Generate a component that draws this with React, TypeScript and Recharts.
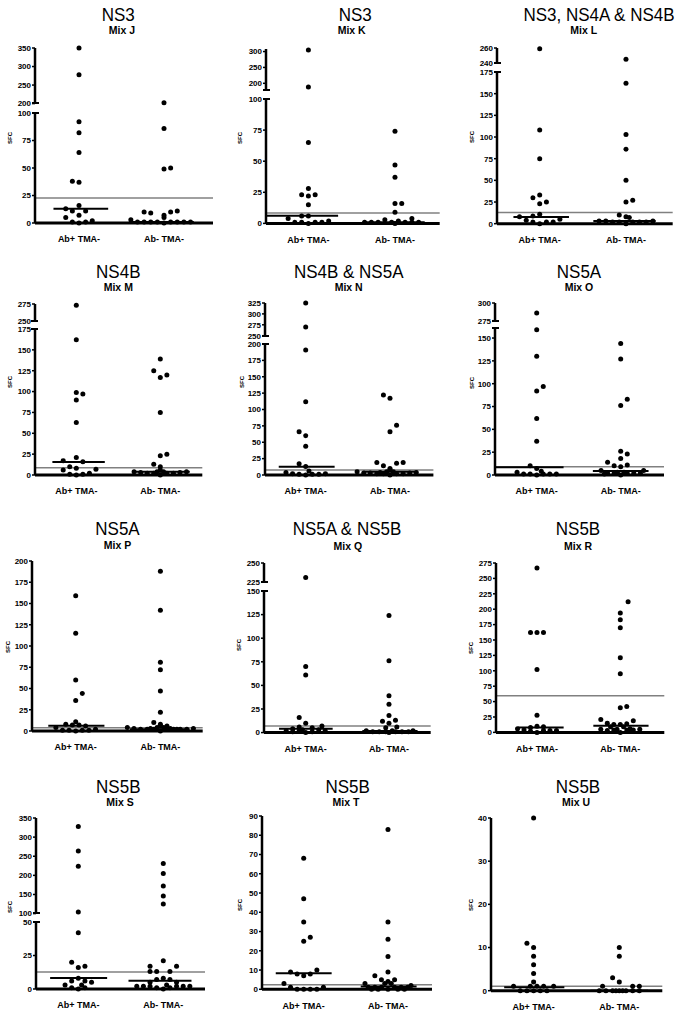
import React from 'react';
import { ScatterChart, Scatter, XAxis, YAxis, ReferenceLine } from 'recharts';

type Pt = [number, number];

const FONT = "'Liberation Sans', Arial, Helvetica, sans-serif";

const categories = ['Ab+ TMA-', 'Ab- TMA-'];
const axisTitle = 'SFC';
const proteinTitles = [
  'NS3', 'NS3', 'NS3, NS4A & NS4B',
  'NS4B', 'NS4B & NS5A', 'NS5A',
  'NS5A', 'NS5A & NS5B', 'NS5B',
  'NS5B', 'NS5B', 'NS5B',
];
const mixNames = ['Mix J', 'Mix K', 'Mix L', 'Mix M', 'Mix N', 'Mix O', 'Mix P', 'Mix Q', 'Mix R', 'Mix S', 'Mix T', 'Mix U'];

// Points: [column offset within the scatter, SFC value]
const mixJ_pos: Pt[] = [[0,350],[0,278],[0,92],[0,82],[0,64],[-1,38],[0,37],[0,16],[-2,13],[-1,11],[1,11],[0,7],[-2,5],[-1,1],[0,0],[1,1],[2,2]];
const mixJ_neg: Pt[] = [[0,202],[0,86],[0,49],[1,50],[-3,10],[-2,9],[0,7],[0,5],[1,10],[2,11],[-5,3],[-4,1],[-3,1],[-2,1],[-1,1],[0,0],[1,1],[2,1],[3,1],[4,1]];
const mixK_pos: Pt[] = [[0,305],[0,188],[0,65],[0,28],[-1,23],[1,23],[0,22],[0,15],[-1,6],[0,6],[-3,4],[-2,1],[-1,1],[0,0],[1,1],[2,1],[3,2]];
const mixK_neg: Pt[] = [[0,74],[0,47],[0,37],[0,16],[1,16],[0,9],[2.5,4],[-4.5,1],[-3.5,1],[-2.5,1],[-1.5,3],[-0.5,1],[0,0],[0.5,2],[1.5,1],[2.5,1],[3.5,1]];
const mixL_pos: Pt[] = [[0,259],[0,108],[0,75],[0,33],[-1,30],[1,25],[0,23],[0,11],[-1,9],[-3,8],[-2,4],[3,5],[-1,2],[0,0],[1,2],[2,2]];
const mixL_neg: Pt[] = [[0,245],[0,162],[0,103],[0,86],[0,50],[0,25],[1,27],[-1,10],[0,8],[0.5,7],[-4,3],[-3,3],[-2,2],[-1,2],[0,0],[1,2],[2,2],[3,2],[4,3]];
const mixM_pos: Pt[] = [[0,273],[0,162],[0,99],[1,97],[0,90],[0,63],[0,21],[-2,17],[1,16],[-1,10],[0,8],[-2,6],[3,7],[-1,1],[0,0],[1,1],[2,2]];
const mixM_neg: Pt[] = [[0,139],[-1,125],[0,117],[1,120],[0,75],[0,23],[1,25],[-1,13],[0,10],[0,6],[-4,4],[-3,3],[-2,2],[-1,2],[0,0],[1,2],[2,2],[3,3],[4,4],[-0.5,4],[0.5,4]];
const mixN_pos: Pt[] = [[0,325],[0,270],[0,191],[0,112],[-1,66],[0,60],[0,44],[-1,17],[0,13],[0.5,6],[-3,4],[-2,2],[-1,1],[0,0],[1,1],[2,1],[3,2]];
const mixN_neg: Pt[] = [[-1,122],[0,117],[1,76],[0,66],[-2,19],[-1,14],[1,18],[2,19],[0,10],[0,8],[-5,5],[-4,3],[-3,3],[-2,2],[-1,2],[0,0],[1,2],[2,2],[3,3],[4,4],[-0.5,5],[0.5,5],[-1.5,4]];
const mixO_pos: Pt[] = [[0,286],[0,159],[0,130],[1,97],[0,92],[0,62],[0,37],[-1,10],[0,7],[0.7,4],[-3,3],[-2,1],[-1,1],[0,0],[1,1],[2,1],[3,1]];
const mixO_neg: Pt[] = [[0,144],[0,127],[1,83],[0,76],[0,26],[1,23],[0,18],[-2,14],[-1,10],[0,9],[1,11],[3.5,5],[-3,5],[-2,2],[-1,2],[0,0],[1,2],[2,2],[3,2],[-2.5,1],[-0.5,3],[0.5,3]];
const mixP_pos: Pt[] = [[0,159],[0,115],[0,60],[1,44],[0,36],[0,11],[-1.5,8],[-0.5,7],[0.5,7],[1.5,6],[-3,4],[-2,1],[-1,1],[0,0],[1,1],[2,1],[3,2]];
const mixP_neg: Pt[] = [[0,188],[0,142],[0,81],[0,72],[0,47],[0,22],[-1,10],[0,8],[0,6],[1,6],[-5,4],[-4,3],[-3,2],[-2,2],[-1,2],[0,0],[1,2],[2,2],[3,2],[4,2],[5,3],[-0.5,4],[0.5,4],[-1.5,3],[1.5,3],[2.5,2]];
const mixQ_pos: Pt[] = [[0,231],[0,70],[0,61],[-1,16],[0,10],[-1,6],[1,5],[2.5,7],[-2,4],[-0.5,3],[-3,2],[-2,1],[-1,2],[0,0],[1,1],[2,3],[3,2]];
const mixQ_neg: Pt[] = [[0,124],[0,76],[0,39],[0,30],[0,18],[-1,12],[1,13],[0,10],[-0.5,5],[1.2,6],[-3.5,2],[-2.5,1],[-1.5,1],[-0.5,1],[0,0],[1,1],[2,1],[3,1],[3.7,2],[0.5,2]];
const mixR_pos: Pt[] = [[0,267],[-1,162],[0,162],[1,162],[0,102],[0,28],[0,10],[-1,8],[1,9],[-3,6],[-2,4],[-1,2],[0,0],[1,3],[2,3],[3,3]];
const mixR_neg: Pt[] = [[1.2,212],[0,194],[0,183],[0,170],[0,121],[0,95],[0,40],[1,42],[-3,21],[2,19],[-2,15],[-1,13],[0,13],[1,14],[-1.5,9],[0.5,9],[-3,5],[-2,3],[-1,4],[0,0],[1,4],[2,4],[3,5],[-0.5,5],[1.5,6]];
const mixS_pos: Pt[] = [[0,328],[0,264],[0,224],[0,104],[0,42],[-1,20],[1,17],[0,16],[0,8],[-1,6],[1,6],[-2,3],[2,5],[-1,1],[0,0],[1,1],[0.5,3]];
const mixS_neg: Pt[] = [[0,231],[0,205],[0,172],[0,146],[0,125],[0,21],[-2,17],[2,17],[-2,13],[-1,13],[1,13],[0,8],[-1,7],[1,7],[-2,5],[2,5],[-4,2],[-3,2],[-2,2],[-1,1],[0,0],[1,1],[2,2],[3,2],[4,2],[0.5,3]];
const mixT_pos: Pt[] = [[0,68],[0,47],[0,35],[1,27],[0,25],[2,10],[-2,9],[-1,8],[1,8],[0,7],[-3,3],[-2,1],[-1,0],[0,0],[1,0],[2,0],[3,1]];
const mixT_neg: Pt[] = [[0,83],[0,35],[0,26],[0,17],[0,9],[-2,7],[-1,5],[1,5],[-3.5,3],[3.5,2],[-0.5,3],[0.5,3],[0,4],[-3,1],[-2,1],[-1,1],[0,0],[1,1],[2,1],[3,1],[-2.5,0],[2.5,0],[-1.5,0],[1.5,0]];
const mixU_pos: Pt[] = [[0,40],[-1,11],[0,10],[0,8],[0,6],[0,4],[0,2],[-3,1],[-0.5,1],[0.5,1],[1.5,1],[3,1],[-2,0],[-1,0],[0,0],[1,0],[2,0]];
const mixU_neg: Pt[] = [[0,10],[0,8],[-1,3],[0,2],[-2.5,1],[2,1],[3,1],[-3,0],[-2,0],[-1,0],[0,0],[1,0],[2,0],[3,0],[-0.5,0],[0.5,0]];

// medians [Ab+, Ab-] and positivity cut-offs
const medianValues: [number, number][] = [
  [13, 1], [6.2, 1], [7.7, 3],
  [15.6, 4], [12.7, 5], [8.4, 4.4],
  [6.3, 2], [4.2, 1.8], [8.1, 10.8],
  [8.2, 6.2], [8.3, 1.4], [0.8, 0],
];
const cutoffValues = [22.7, 8.3, 13, 8.8, 7.6, 9.1, 3.9, 7, 59.6, 12.7, 2.4, 1];

// tick labels
const ticks0to100 = [0, 25, 50, 75, 100];
const ticks0to150 = [0, 25, 50, 75, 100, 125, 150];
const ticks0to175 = [0, 25, 50, 75, 100, 125, 150, 175];
const ticks0to200 = [0, 25, 50, 75, 100, 125, 150, 175, 200];
const ticks0to275 = [0, 25, 50, 75, 100, 125, 150, 175, 200, 225, 250, 275];
const ticks0to50 = [0, 25, 50];
const ticks0to90 = [0, 10, 20, 30, 40, 50, 60, 70, 80, 90];
const ticks0to40 = [0, 10, 20, 30, 40];
const ticksJUp = [200, 250, 300, 350];
const ticksKUp = [200, 250, 300];
const ticksLUp = [240, 260];
const ticksMUp = [250, 275];
const ticksNUp = [250, 275, 300, 325];
const ticksOUp = [275, 300];
const ticksQUp = [225, 250];
const ticksSUp = [100, 150, 200, 250, 300, 350];

type Seg = { lo: number; hi: number; yLo: number; yHi: number; ticks: number[] };
type Layout = {
  axisX: number; xEnd: number; c1: number; c2: number;
  lower: Seg; upper?: Seg;
  title: [number, number]; sub: [number, number]; sfc: [number, number];
  medExt: [[number, number], [number, number]];
};

const layouts: Layout[] = [
  { axisX: 35, xEnd: 213, c1: 79, c2: 164,
    lower: { lo: 0, hi: 100, yLo: 222.7, yHi: 112.7, ticks: ticks0to100 },
    upper: { lo: 200, hi: 350, yLo: 103.3, yHi: 47.7, ticks: ticksJUp },
    title: [118.3, 14.8], sub: [122, 30.5], sfc: [10, 138], medExt: [[-3.85, 4.4], [-5.3, 4.5]] },
  { axisX: 266.3, xEnd: 440, c1: 308.7, c2: 395.3,
    lower: { lo: 0, hi: 100, yLo: 223.7, yHi: 99.3, ticks: ticks0to100 },
    upper: { lo: 178, hi: 308, yLo: 90, yHi: 48.7, ticks: ticksKUp },
    title: [355.3, 14.8], sub: [351.7, 30.5], sfc: [240.3, 138], medExt: [[-6.25, 4.4], [-4.8, 4.4]] },
  { axisX: 497.3, xEnd: 673, c1: 540, c2: 626.3,
    lower: { lo: 0, hi: 175, yLo: 223.7, yHi: 72, ticks: ticks0to175 },
    upper: { lo: 240, hi: 260, yLo: 63.3, yHi: 48.3, ticks: ticksLUp },
    title: [599, 14.8], sub: [583.7, 30.5], sfc: [472.3, 137], medExt: [[-3.9, 4.35], [-4.85, 4.4]] },
  { axisX: 34.7, xEnd: 202, c1: 76, c2: 160,
    lower: { lo: 0, hi: 175, yLo: 475, yHi: 329, ticks: ticks0to175 },
    upper: { lo: 250, hi: 275, yLo: 321, yHi: 304, ticks: ticksMUp },
    title: [118.3, 271.5], sub: [118.3, 286.8], sfc: [10, 381.7], medExt: [[-3.65, 4.35], [-4.25, 4.5]] },
  { axisX: 265.3, xEnd: 433.7, c1: 306, c2: 390.3,
    lower: { lo: 0, hi: 200, yLo: 475, yHi: 344, ticks: ticks0to200 },
    upper: { lo: 250, hi: 325, yLo: 336, yHi: 303.3, ticks: ticksNUp },
    title: [348.7, 271.5], sub: [348.7, 286.8], sfc: [242, 381.7], medExt: [[-4.1, 4.4], [-4, 4.25]] },
  { axisX: 495, xEnd: 664, c1: 536.7, c2: 620.7,
    lower: { lo: 0, hi: 161, yLo: 475, yHi: 328, ticks: ticks0to150 },
    upper: { lo: 275, hi: 300, yLo: 321, yHi: 303.3, ticks: ticksOUp },
    title: [579, 271.5], sub: [579, 286.8], sfc: [472.3, 383], medExt: [[-6.3, 4.1], [-4.25, 4.25]] },
  { axisX: 32.3, xEnd: 203, c1: 76, c2: 160.7,
    lower: { lo: 0, hi: 200, yLo: 731, yHi: 561, ticks: ticks0to200 },
    title: [117.5, 528], sub: [117.5, 545.5], sfc: [8.3, 646.7], medExt: [[-4.15, 4.35], [-4.6, 4.4]] },
  { axisX: 264.3, xEnd: 431, c1: 306, c2: 389.3,
    lower: { lo: 0, hi: 150, yLo: 732.3, yHi: 590.7, ticks: ticks0to150 },
    upper: { lo: 225, hi: 250, yLo: 581.7, yHi: 562.7, ticks: ticksQUp },
    title: [347, 528.5], sub: [347.8, 546], sfc: [238.7, 645], medExt: [[-4.1, 4.15], [-4.1, 4.4]] },
  { axisX: 495.7, xEnd: 664, c1: 536.7, c2: 620,
    lower: { lo: 0, hi: 275, yLo: 732.7, yHi: 563.3, ticks: ticks0to275 },
    title: [578, 528.5], sub: [578, 546], sfc: [470.7, 648], medExt: [[-2.9, 4.1], [-4.15, 4.35]] },
  { axisX: 36, xEnd: 205, c1: 78.3, c2: 163.3,
    lower: { lo: 0, hi: 50, yLo: 989.3, yHi: 922.3, ticks: ticks0to50 },
    upper: { lo: 100, hi: 350, yLo: 913.3, yHi: 817.7, ticks: ticksSUp },
    title: [118.3, 786.2], sub: [120, 802.3], sfc: [10, 906.7], medExt: [[-4.25, 4.35], [-5.25, 4.25]] },
  { axisX: 262, xEnd: 432, c1: 303.7, c2: 388,
    lower: { lo: 0, hi: 90, yLo: 989.3, yHi: 816, ticks: ticks0to90 },
    title: [347.7, 786.2], sub: [346, 802], sfc: [240.3, 905], medExt: [[-4.25, 4.25], [-4.15, 4.35]] },
  { axisX: 490.7, xEnd: 662, c1: 533.3, c2: 619,
    lower: { lo: 0, hi: 40, yLo: 991, yHi: 818.3, ticks: ticks0to40 },
    title: [578, 786.2], sub: [576, 802], sfc: [471.3, 905], medExt: [[-4.4, 4.6], [-4.3, 4.3]] },
];

const groupsByPanel: Pt[][][] = [
  [mixJ_pos, mixJ_neg], [mixK_pos, mixK_neg], [mixL_pos, mixL_neg],
  [mixM_pos, mixM_neg], [mixN_pos, mixN_neg], [mixO_pos, mixO_neg],
  [mixP_pos, mixP_neg], [mixQ_pos, mixQ_neg], [mixR_pos, mixR_neg],
  [mixS_pos, mixS_neg], [mixT_pos, mixT_neg], [mixU_pos, mixU_neg],
];

const STEP = 0.078;
const YW = 30, MT = 6, MB = 4, XH = 26, MR = 4;

const Dot = (p: any) =>
  p.cx == null || p.cy == null ? <g /> : <circle cx={p.cx} cy={p.cy} r={2.5} fill="#000" />;

function Segment({ L, seg, lower, groups, median, cutoff }: {
  L: Layout; seg: Seg; lower: boolean; groups: Pt[][]; median: [number, number]; cutoff: number;
}) {
  const plotH = seg.yLo - seg.yHi;
  const plotW = L.xEnd - L.axisX;
  const ppu = L.c2 - L.c1;
  const d0 = 1 - (L.c1 - L.axisX) / ppu;
  const d1 = d0 + plotW / ppu;
  const width = YW + plotW + MR;
  const height = MT + plotH + (lower ? XH : MB);
  const series = groups.map((g, gi) =>
    g.filter(([, v]) => v >= seg.lo && v <= seg.hi).map(([c, v]) => ({ x: gi + 1 + c * STEP, y: v }))
  );
  return (
    <div style={{ position: 'absolute', left: L.axisX - YW, top: seg.yHi - MT }}>
      <ScatterChart width={width} height={height} margin={{ top: MT, right: MR, bottom: lower ? 0 : MB, left: 0 }}>
        <XAxis
          type="number" dataKey="x" domain={[d0, d1]} hide={!lower} ticks={[1, 2]} interval={0}
          tickFormatter={(v: number) => categories[Math.round(v) - 1] ?? ''}
          axisLine={{ stroke: '#000', strokeWidth: 3 }} tickLine={false} tickSize={8} tickMargin={5} height={XH}
          tick={{ fontSize: 9, fontWeight: 700, fill: '#000', fontFamily: FONT }}
        />
        <YAxis
          type="number" dataKey="y" domain={[seg.lo, seg.hi]} ticks={seg.ticks} interval={0} width={YW}
          axisLine={{ stroke: '#000', strokeWidth: 2.5 }} tickLine={{ stroke: '#000', strokeWidth: 1.5 }}
          tickSize={3} tickMargin={1}
          tick={{ fontSize: 8, fontWeight: 700, fill: '#000', fontFamily: FONT }}
        />
        {lower && <ReferenceLine y={cutoff} stroke="#808080" strokeWidth={1.5} ifOverflow="visible" />}
        {lower && median.map((m, i) => (
          <ReferenceLine
            key={'m' + i}
            segment={[{ x: i + 1 + L.medExt[i][0] * STEP, y: m }, { x: i + 1 + L.medExt[i][1] * STEP, y: m }]}
            stroke="#000" strokeWidth={2} ifOverflow="visible"
          />
        ))}
        {series.map((d, i) => (
          <Scatter key={'s' + i} data={d} isAnimationActive={false} shape={Dot} fill="#000" />
        ))}
      </ScatterChart>
    </div>
  );
}

function textTop(center: number, fs: number) {
  return center - 0.4885 * fs;
}

function Panel({ idx }: { idx: number }) {
  const L = layouts[idx];
  const groups = groupsByPanel[idx];
  const median = medianValues[idx];
  const cutoff = cutoffValues[idx];
  const tfs = 17, sfs = 10.5;
  return (
    <>
      <div style={{ position: 'absolute', left: L.title[0], top: textTop(L.title[1], tfs), transform: 'translateX(-50%) scaleY(1.1)', fontSize: tfs, lineHeight: `${tfs}px`, fontFamily: FONT, whiteSpace: 'nowrap', color: '#000' }}>
        {proteinTitles[idx]}
      </div>
      <div style={{ position: 'absolute', left: L.sub[0], top: textTop(L.sub[1], sfs), transform: 'translateX(-50%)', fontSize: sfs, lineHeight: `${sfs}px`, fontWeight: 700, fontFamily: FONT, whiteSpace: 'nowrap', color: '#000' }}>
        {mixNames[idx]}
      </div>
      <div style={{ position: 'absolute', left: L.sfc[0], top: L.sfc[1], transform: 'translate(-50%, -50%) rotate(-90deg)', fontSize: 6, lineHeight: '6px', fontWeight: 700, fontFamily: FONT, whiteSpace: 'nowrap', color: '#000' }}>
        {axisTitle}
      </div>
      <Segment L={L} seg={L.lower} lower={true} groups={groups} median={median} cutoff={cutoff} />
      {L.upper && <Segment L={L} seg={L.upper} lower={false} groups={groups} median={median} cutoff={cutoff} />}
      {L.upper && (
        <>
          <div style={{ position: 'absolute', left: L.axisX - 3.5, top: L.lower.yHi - 1, width: 7, height: 2, background: '#000' }} />
          <div style={{ position: 'absolute', left: L.axisX - 3.5, top: L.upper.yLo - 1, width: 7, height: 2, background: '#000' }} />
        </>
      )}
    </>
  );
}

export default function App() {
  return (
    <div style={{ position: 'absolute', left: 0, top: 0, width: 695, height: 1017, background: '#fff', overflow: 'hidden' }}>
      {layouts.map((_, i) => <Panel key={i} idx={i} />)}
    </div>
  );
}
